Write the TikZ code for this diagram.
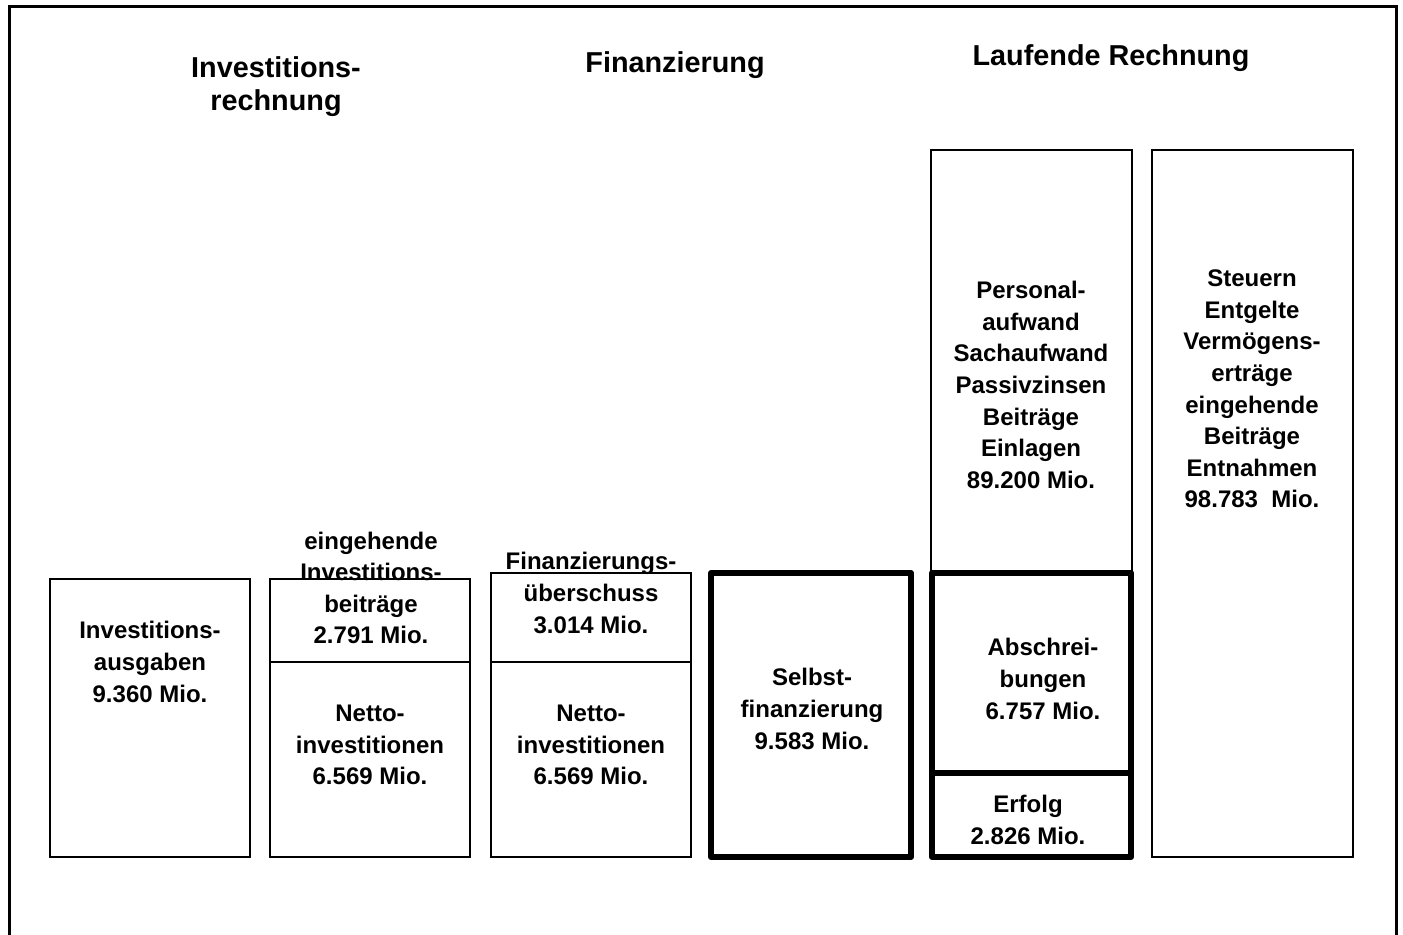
\documentclass[tikz,border=0pt]{standalone}
\usepackage{fontspec}
\setmainfont{Liberation Sans}
\tikzset{
  thinbox/.style={draw=black,line width=1pt},
  thickbox/.style={draw=black,line width=3pt,line join=round},
  boxtext/.style={font=\bfseries\fontsize{12}{15.8}\selectfont,align=center,inner sep=0pt},
  headtext/.style={font=\bfseries\fontsize{14.4}{16.5}\selectfont,align=center,inner sep=0pt}
}
\begin{document}
\begin{tikzpicture}[x=0.5pt,y=-0.5pt]
        \useasboundingbox (0,0) rectangle (1403,935);
        %Rahmen
        \draw[line width=1.5pt] (9,940) -- (9,7) -- (1396,7) -- (1396,940);

        %Ueberschriften
        \node[headtext] (tinv) at (276,87) {Investitions-\\rechnung};
        \node[headtext] (tfin) at (675,65) {Finanzierung};
        \node[headtext] (tlauf) at (1111,58) {Laufende Rechnung};

        %Texte
        \node[boxtext] (ausg) at (150,662) {Investitions-\\ausgaben\\9.360 Mio.};
        \node[boxtext] (beitr) at (371,588) {eingehende\\Investitions-\\beiträge\\2.791 Mio.};
        \node[boxtext] (netto1) at (370,745) {Netto-\\investitionen\\6.569 Mio.};
        \node[boxtext] (ueber) at (591,593) {Finanzierungs-\\überschuss\\3.014 Mio.};
        \node[boxtext] (netto2) at (591,745) {Netto-\\investitionen\\6.569 Mio.};
        \node[boxtext] (selbst) at (812,709) {Selbst-\\finanzierung\\9.583 Mio.};
        \node[boxtext] (aufw) at (1031,385) {Personal-\\aufwand\\Sachaufwand\\Passivzinsen\\Beiträge\\Einlagen\\89.200 Mio.};
        \node[boxtext] (abschr) at (1043,679) {Abschrei-\\bungen\\6.757 Mio.};
        \node[boxtext] (erfolg) at (1028,820) {Erfolg\\2.826 Mio.};
        \node[boxtext] (ertr) at (1252,389) {Steuern\\Entgelte\\Vermögens-\\erträge\\eingehende\\Beiträge\\Entnahmen\\98.783 \ Mio.};

        %Investitionsrechnung
        \draw[thinbox] (50,579) rectangle (250,857);
        \draw[thinbox] (270,579) rectangle (470,857);
        \draw[thinbox] (270,662) -- (470,662);

        %Finanzierung
        \draw[thinbox] (491,573) rectangle (691,857);
        \draw[thinbox] (491,662) -- (691,662);
        \draw[thickbox] (711,573) rectangle (911,857);

        %Laufende Rechnung
        \draw[thinbox] (931,150) rectangle (1132,573);
        \draw[thickbox] (932,573) rectangle (1131,857);
        \draw[thickbox] (932,773) -- (1131,773);
        \draw[thinbox] (1152,150) rectangle (1353,857);
\end{tikzpicture}
\end{document}
